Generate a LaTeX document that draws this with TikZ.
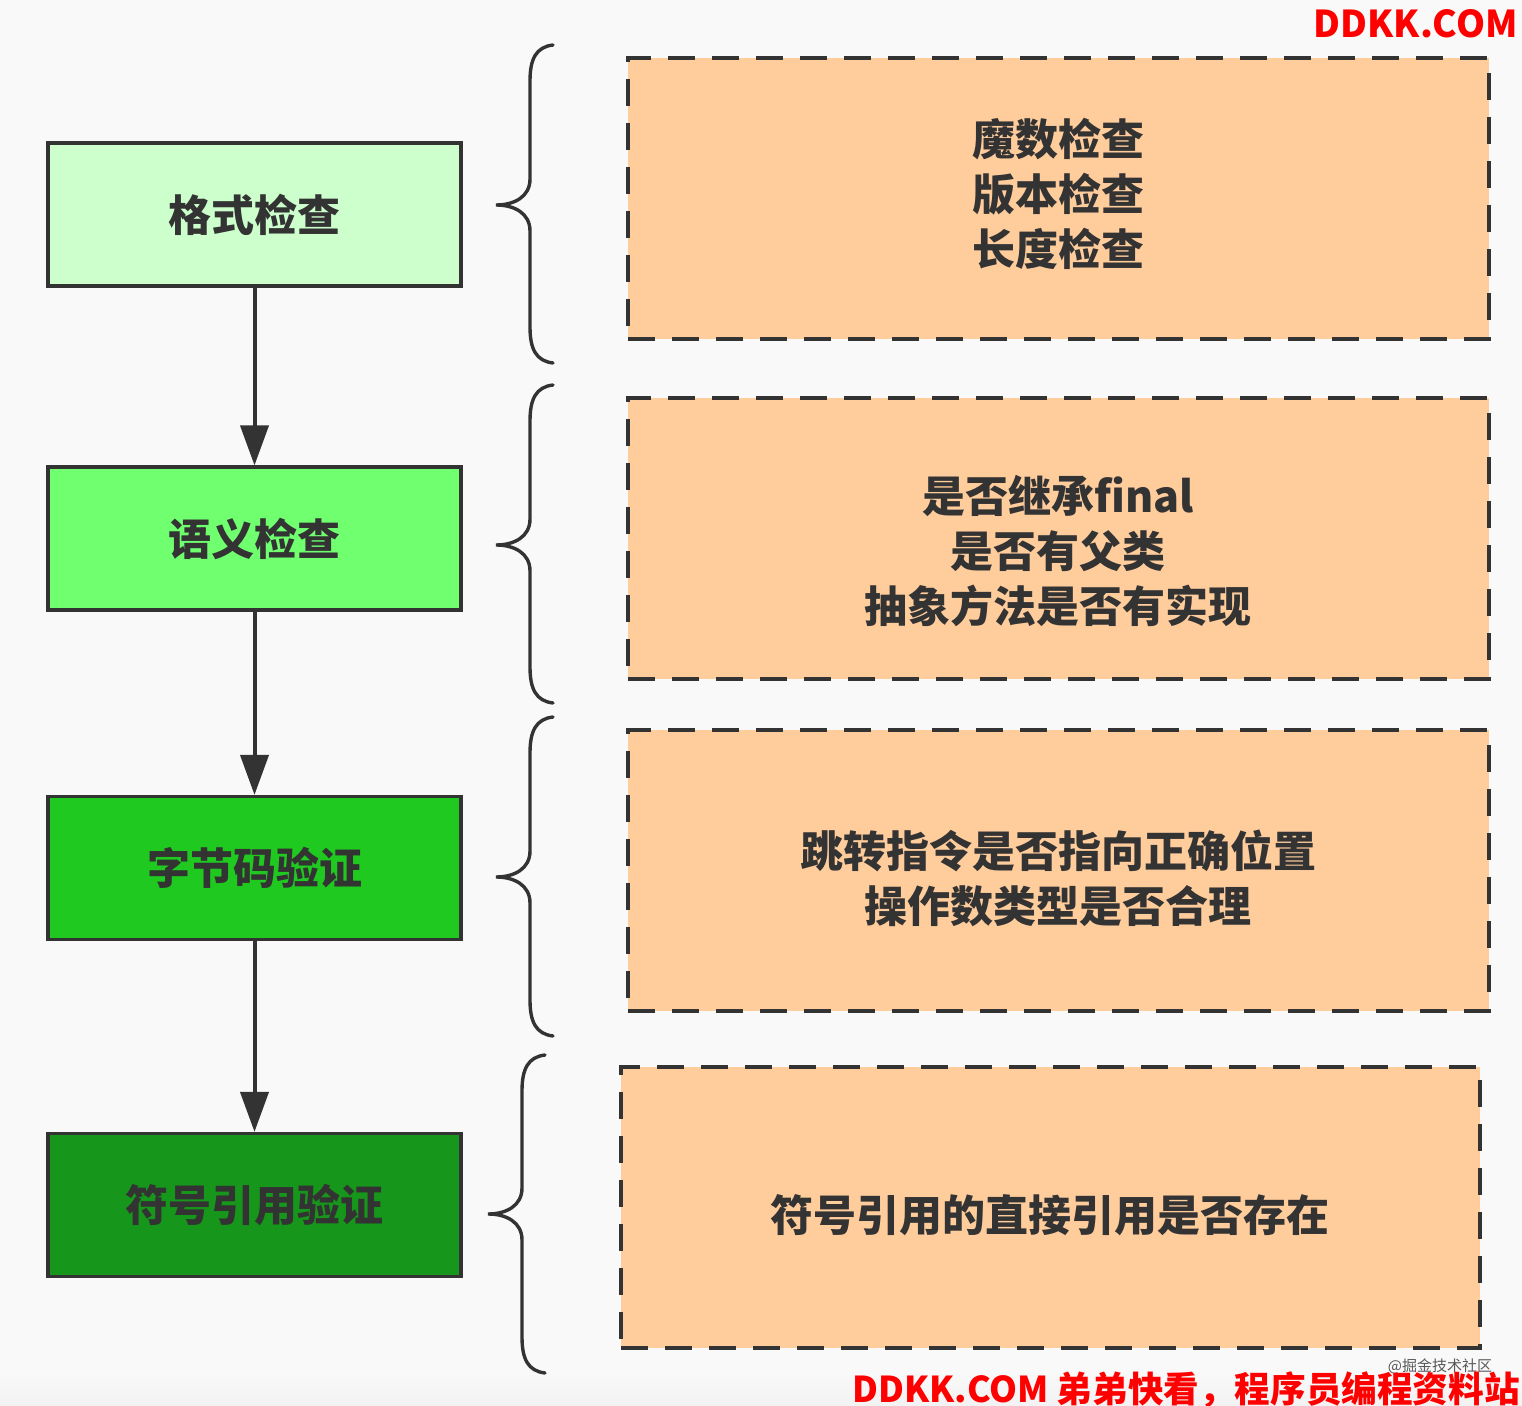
\documentclass[tikz,border=0pt]{standalone}
\usepackage{fontspec}
\setmainfont{Noto Sans CJK SC}
\newfontfamily\cjk{Noto Sans CJK SC}
\usetikzlibrary{arrows.meta}
\definecolor{bgc}{HTML}{F9F9F9}
\definecolor{inkc}{HTML}{333333}
\definecolor{gA}{HTML}{CCFFCC}
\definecolor{gB}{HTML}{6FFF6F}
\definecolor{gC}{HTML}{20C920}
\definecolor{gD}{HTML}{16961A}
\definecolor{orc}{HTML}{FFCC9C}
\definecolor{wmred}{HTML}{FF0000}
\tikzset{
  leftbox/.style={draw=inkc, line width=1.6pt, minimum width=206.5pt, minimum height=71.5pt,
    inner sep=0pt, font=\cjk\bfseries\fontsize{21.5pt}{26pt}\selectfont, text=inkc},
  dashbox/.style={draw=inkc, fill=orc, line width=2pt, dash pattern=on 13.5pt off 8.5pt,
    minimum height=140.5pt, inner sep=0pt},
  boxtext/.style={align=center, inner sep=0pt, text=inkc,
    font=\cjk\bfseries\fontsize{21.5pt}{27.5pt}\selectfont},
  flowarrow/.style={draw=inkc, line width=2pt, -{Triangle[length=20pt,width=14pt]}},
  bracestyle/.style={draw=inkc, line width=1.7pt, line cap=round},
  wmtext/.style={text=wmred, inner sep=0pt, font=\cjk\bfseries\fontsize{18.5pt}{20pt}\selectfont}
}
\newcommand\drawcurly[4]{%
  \draw[bracestyle] ({#1+23},#2) .. controls ({#1+6},{#2+2}) and (#1,{#2+14}) .. (#1,{#2+36})
    -- (#1,{#3-26}) .. controls (#1,{#3-8}) and ({#1-16},#3) .. ({#1-34},#3)
    .. controls ({#1-16},#3) and (#1,{#3+8}) .. (#1,{#3+26})
    -- (#1,{#4-36}) .. controls (#1,{#4-14}) and ({#1+6},{#4-2}) .. ({#1+23},#4);}
\begin{document}
\begin{tikzpicture}[x=0.5pt,y=-0.5pt]
\fill[bgc] (0,0) rectangle (1522,1406);
\shade[top color=bgc, bottom color={black!5}] (0,1372) rectangle (1522,1406);
\useasboundingbox (0,0) rectangle (1522,1406);

% left flow boxes
\node[leftbox, fill=gA] (b1) at (254.5,214.5) {格式检查};
\node[leftbox, fill=gB] (b2) at (254.5,538.5) {语义检查};
\node[leftbox, fill=gC] (b3) at (254.5,868) {字节码验证};
\node[leftbox, fill=gD] (b4) at (254.5,1205) {符号引用验证};

\draw[flowarrow] (b1) -- (b2);
\draw[flowarrow] (b2) -- (b3);
\draw[flowarrow] (b3) -- (b4);

% braces
\drawcurly{530}{45}{205}{363}
\drawcurly{530}{385}{545}{703}
\drawcurly{530}{717}{877}{1036}
\drawcurly{522}{1055}{1214}{1373}

% dashed detail boxes
\node[dashbox, minimum width=430.5pt] (d1) at (1058.5,198.5) {};
\node[dashbox, minimum width=430.5pt] (d2) at (1058.5,539) {};
\node[dashbox, minimum width=430.5pt] (d3) at (1058.5,870.5) {};
\node[dashbox, minimum width=429.5pt] (d4) at (1050.5,1207.5) {};

\node[boxtext] (t1) at (1058,194) {魔数检查\\版本检查\\长度检查};
\node[boxtext] (t2) at (1058,551) {是否继承final\\是否有父类\\抽象方法是否有实现};
\node[boxtext] (t3) at (1058,878) {跳转指令是否指向正确位置\\操作数类型是否合理};
\node[boxtext] (t4) at (1050,1215) {符号引用的直接引用是否存在};

% watermarks
\node[wmtext, anchor=east] (wm1) at (1518,24) {DDKK.COM};
\node[text=black!65, inner sep=0pt, font=\cjk\fontsize{7.5pt}{8pt}\selectfont] (wm3) at (1440,1366) {@掘金技术社区};
\node[wmtext, anchor=east, font=\cjk\bfseries\fontsize{17.8pt}{20pt}\selectfont] (wm2) at (1520,1390) {DDKK.COM 弟弟快看，程序员编程资料站};
\end{tikzpicture}
\end{document}
